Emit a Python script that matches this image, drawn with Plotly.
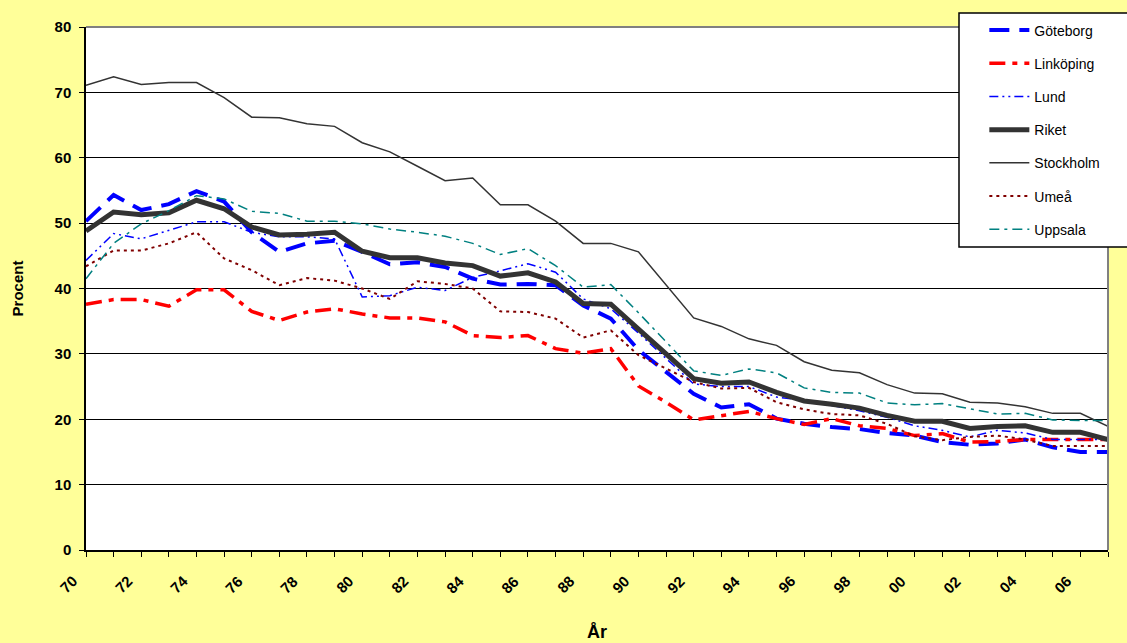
import plotly.graph_objects as go

years = list(range(1970, 2008))
tick_labels = [("%02d" % (y % 100)) if y % 2 == 0 else "" for y in years]

goteborg = [50.3, 54.3, 52.0, 52.9, 54.9, 53.3, 48.6, 45.6, 46.9, 47.3, 45.6,
            43.7, 44.0, 43.3, 41.5, 40.6, 40.7, 40.5, 37.4, 35.4, 30.6, 27.2,
            23.9, 21.8, 22.3, 20.1, 19.3, 18.8, 18.5, 17.9, 17.5, 16.5, 16.1,
            16.3, 16.9, 15.7, 15.0, 15.0]
linkoping = [37.6, 38.3, 38.3, 37.3, 39.8, 39.8, 36.5, 35.1, 36.4, 36.9, 36.1,
             35.5, 35.5, 34.9, 32.8, 32.5, 32.8, 30.8, 30.1, 30.8, 25.1, 22.6,
             19.9, 20.6, 21.2, 20.1, 19.2, 20.1, 19.0, 18.6, 17.5, 17.8, 16.5,
             16.6, 16.9, 16.9, 16.9, 16.9]
lund = [44.3, 48.4, 47.6, 48.9, 50.2, 50.2, 48.6, 47.9, 47.9, 47.6, 38.7,
        38.9, 40.2, 39.7, 41.7, 42.7, 43.8, 42.5, 38.4, 36.9, 33.2, 29.3,
        25.4, 25.0, 25.0, 23.4, 22.9, 22.1, 21.3, 20.3, 19.0, 18.3, 17.3,
        18.3, 17.9, 16.9, 16.9, 16.9]
riket = [48.8, 51.7, 51.3, 51.6, 53.5, 52.2, 49.4, 48.2, 48.3, 48.6, 45.7,
         44.7, 44.7, 43.9, 43.5, 41.9, 42.4, 41.0, 37.7, 37.6, 33.8, 30.1,
         26.2, 25.5, 25.7, 24.1, 22.8, 22.3, 21.7, 20.6, 19.7, 19.7, 18.6,
         18.9, 19.0, 18.0, 18.0, 16.9]
stockholm = [71.1, 72.4, 71.2, 71.5, 71.5, 69.2, 66.2, 66.1, 65.2, 64.8, 62.3,
             60.9, 58.7, 56.5, 56.9, 52.8, 52.8, 50.3, 46.9, 46.9, 45.6, 40.5,
             35.5, 34.2, 32.3, 31.3, 28.8, 27.5, 27.1, 25.3, 24.0, 23.9, 22.6,
             22.5, 21.9, 20.9, 20.9, 18.9]
umea = [43.4, 45.8, 45.8, 46.9, 48.6, 44.6, 42.8, 40.5, 41.6, 41.2, 40.0,
        38.4, 41.1, 40.7, 40.0, 36.5, 36.4, 35.4, 32.5, 33.6, 29.8, 27.7,
        25.7, 24.7, 24.8, 22.6, 21.5, 20.8, 20.6, 19.3, 17.4, 16.8, 17.3,
        17.5, 16.9, 15.9, 15.9, 15.9]
uppsala = [41.5, 46.9, 49.9, 51.9, 54.2, 53.7, 51.8, 51.5, 50.3, 50.3, 49.9,
           49.1, 48.6, 48.0, 46.9, 45.2, 46.1, 43.5, 40.2, 40.6, 36.3, 31.8,
           27.4, 26.7, 27.7, 27.1, 24.8, 24.1, 24.0, 22.5, 22.2, 22.4, 21.6,
           20.8, 20.9, 19.9, 19.8, 19.8]

series = [
    ("Göteborg", goteborg, dict(color="#0000FF", width=4, dash="20px,10px")),
    ("Linköping", linkoping, dict(color="#FF0000", width=3.5, dash="16px,7px,5px,7px")),
    ("Lund", lund, dict(color="#0000FF", width=1.5, dash="9px,4px,2px,4px,2px,4px")),
    ("Riket", riket, dict(color="#333333", width=5)),
    ("Stockholm", stockholm, dict(color="#333333", width=1.5)),
    ("Umeå", umea, dict(color="#800000", width=2, dash="3px,4px")),
    ("Uppsala", uppsala, dict(color="#008080", width=1.5, dash="10px,5px,3px,5px")),
]

fig = go.Figure()
for name, vals, line in series:
    fig.add_trace(go.Scatter(x=years, y=vals, name=name, mode="lines",
                             line=line, legendgroup=name))

FONT = "Liberation Sans, Arial, sans-serif"

fig.update_layout(
    width=1127, height=643,
    margin=dict(l=86, r=19, t=27, b=93, autoexpand=False),
    paper_bgcolor="#FFFF99",
    plot_bgcolor="#FFFFFF",
    font=dict(family=FONT, color="#000000"),
    showlegend=True,
    legend=dict(
        x=0.879, y=1.024, xanchor="left", yanchor="top",
        bgcolor="rgba(0,0,0,0)", borderwidth=0,
        font=dict(family=FONT, size=14, color="#000000"),
        tracegroupgap=12, itemwidth=40,
    ),
    xaxis=dict(
        range=[1970, 2007], automargin=False,
        tickmode="array", tickvals=years, showticklabels=False,
        ticks="outside", ticklen=5, tickcolor="#000000",
        showline=True, linecolor="#000000", linewidth=1.5,
        showgrid=False, zeroline=False,
    ),
    yaxis=dict(
        range=[0, 80], dtick=10, automargin=False,
        tickfont=dict(family=FONT, size=15, weight="bold"),
        ticks="outside", ticklen=5, tickcolor="#000000",
        ticklabelstandoff=5,
        showline=True, linecolor="#000000", linewidth=1.5,
        showgrid=True, gridcolor="#000000", gridwidth=1,
        zeroline=False,
        title=dict(text="Procent", font=dict(family=FONT, size=15, weight="bold"), standoff=27),
    ),
)

# rotated year labels, placed through the x axis scale
for yr, lab in zip(years, tick_labels):
    if lab:
        fig.add_annotation(x=yr, xref="x", y=0, yref="paper", text=lab,
                           showarrow=False, textangle=-45,
                           xanchor="center", yanchor="middle",
                           xshift=-18, yshift=-34,
                           font=dict(family=FONT, size=15, weight="bold", color="#000000"))

fig.add_annotation(x=0.5, xref="paper", y=(550 - 632) / 523, yref="paper", text="År",
                   showarrow=False, xanchor="center", yanchor="middle",
                   font=dict(family=FONT, size=18, weight="bold", color="#000000"))

fig.add_shape(type="line", xref="paper", yref="paper", x0=1, x1=1, y0=0, y1=1,
              line=dict(color="#808080", width=2))
fig.add_shape(type="line", xref="paper", yref="paper", x0=0, x1=1, y0=1, y1=1,
              line=dict(color="#808080", width=2))
# legend frame (extends past the right edge, as in the reference)
fig.add_shape(type="rect", xref="paper", yref="paper",
              x0=(959 - 86) / 1022, x1=(1140 - 86) / 1022,
              y0=(550 - 247) / 523, y1=(550 - 13) / 523,
              fillcolor="#FFFFFF", line=dict(color="#000000", width=1.5),
              layer="above")

fig.write_html("out.html", config={"displayModeBar": False},
               post_script="document.body.style.margin='0';")
